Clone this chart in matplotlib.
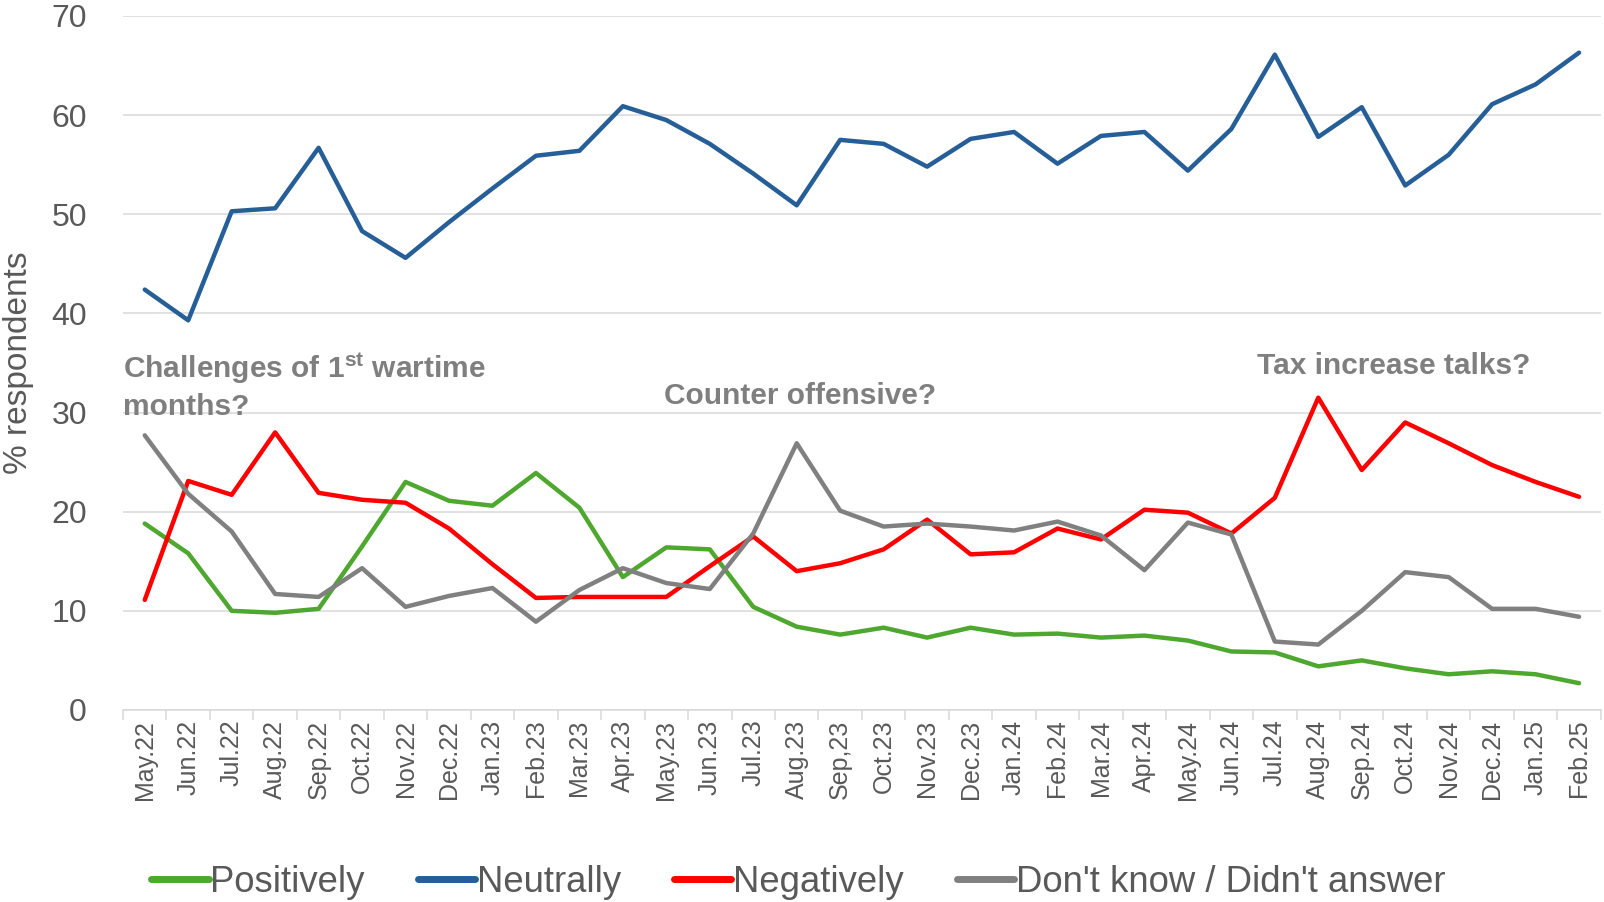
import numpy as np
import matplotlib
matplotlib.use('Agg')
import matplotlib.pyplot as plt

# Survey months
months = ['May.22', 'Jun.22', 'Jul.22', 'Aug.22', 'Sep.22', 'Oct.22', 'Nov.22', 'Dec.22',
          'Jan.23', 'Feb.23', 'Mar.23', 'Apr.23', 'May.23', 'Jun.23', 'Jul.23', 'Aug.23',
          'Sep,23', 'Oct.23', 'Nov.23', 'Dec.23', 'Jan.24', 'Feb.24', 'Mar.24', 'Apr.24',
          'May.24', 'Jun.24', 'Jul.24', 'Aug.24', 'Sep.24', 'Oct.24', 'Nov.24', 'Dec.24',
          'Jan.25', 'Feb.25']

positively = [18.8, 15.8, 10.0, 9.8, 10.2, 16.5, 23.0, 21.1, 20.6, 23.9, 20.4, 13.4,
              16.4, 16.2, 10.4, 8.4, 7.6, 8.3, 7.3, 8.3, 7.6, 7.7, 7.3, 7.5,
              7.0, 5.9, 5.8, 4.4, 5.0, 4.2, 3.6, 3.9, 3.6, 2.7]
neutrally = [42.4, 39.3, 50.3, 50.6, 56.7, 48.3, 45.6, 49.2, 52.6, 55.9, 56.4, 60.9,
             59.5, 57.1, 54.1, 50.9, 57.5, 57.1, 54.8, 57.6, 58.3, 55.1, 57.9, 58.3,
             54.4, 58.6, 66.1, 57.8, 60.8, 52.9, 56.0, 61.1, 63.1, 66.3]
negatively = [11.1, 23.1, 21.7, 28.0, 21.9, 21.2, 20.9, 18.3, 14.7, 11.3, 11.4, 11.4,
              11.4, 14.5, 17.5, 14.0, 14.8, 16.2, 19.2, 15.7, 15.9, 18.3, 17.2, 20.2,
              19.9, 17.8, 21.4, 31.5, 24.2, 29.0, 26.9, 24.7, 23.0, 21.5]
dont_know = [27.7, 21.8, 18.0, 11.7, 11.4, 14.3, 10.4, 11.5, 12.3, 8.9, 12.1, 14.3,
             12.8, 12.2, 17.8, 26.9, 20.1, 18.5, 18.8, 18.5, 18.1, 19.0, 17.6, 14.1,
             18.9, 17.7, 6.9, 6.6, 10.0, 13.9, 13.4, 10.2, 10.2, 9.4]

plt.rcParams['font.family'] = ['Liberation Sans', 'DejaVu Sans']
plt.rcParams['mathtext.fontset'] = 'custom'
plt.rcParams['mathtext.rm'] = 'Liberation Sans'
plt.rcParams['mathtext.bf'] = 'Liberation Sans:bold'

fig = plt.figure(figsize=(16.04, 9.02), dpi=100)
ax = fig.add_axes([0.0767, 0.2129, 0.9213, 0.7694])

x = np.arange(len(months))
ax.plot(x, positively, color='#4ea72e', lw=3.2, label='Positively', solid_capstyle='round')
ax.plot(x, neutrally, color='#265f97', lw=3.2, label='Neutrally', solid_capstyle='round')
ax.plot(x, negatively, color='#ff0000', lw=3.2, label='Negatively', solid_capstyle='round')
ax.plot(x, dont_know, color='#808080', lw=3.2, label="Don't know / Didn't answer",
        solid_capstyle='round')

ax.set_xlim(-0.5, len(months) - 0.5)
ax.set_ylim(0, 70)
ax.set_yticks(range(0, 71, 10))
ax.grid(axis='y', color='#d9d9d9', lw=1.1)
ax.set_axisbelow(True)
for s in ['top', 'right', 'left']:
    ax.spines[s].set_visible(False)
ax.spines['bottom'].set_color('#d9d9d9')
ax.spines['bottom'].set_linewidth(1.1)

ax.set_xticks(x)
ax.set_xticklabels(months, rotation=90)
ax.set_xticks(np.arange(-0.5, len(months), 1), minor=True)
ax.tick_params(axis='x', which='major', length=0, pad=7, labelsize=18, labelcolor='#595959')
ax.tick_params(axis='x', which='minor', length=7, width=1.1, color='#d9d9d9')
ax.tick_params(axis='y', length=0, pad=26, labelsize=23, labelcolor='#595959')

ax.set_ylabel('% respondents', fontsize=24, color='#595959')
ax.yaxis.set_label_coords(-0.060, 0.5)

# annotations
note = dict(fontsize=21.5, fontweight='bold', color='#7f7f7f', va='baseline', ha='left')
ax.text(-0.5, 33.5, 'Challenges of 1$^{\\mathbf{st}}$ wartime', **note)
ax.text(-0.5, 29.8, 'months?', **note)
ax.text(11.95, 30.9, 'Counter offensive?', **note)
ax.text(25.6, 33.85, 'Tax increase talks?', **note)

fig.legend(loc='center', bbox_to_anchor=(0.4977, 0.022), ncol=4, frameon=False,
           fontsize=26.3, handlelength=1.57, handletextpad=0.05, columnspacing=1.45,
           labelcolor='#595959')
for line in fig.legends[0].get_lines():
    line.set_linewidth(5)

fig.savefig('out.png', dpi=100)
